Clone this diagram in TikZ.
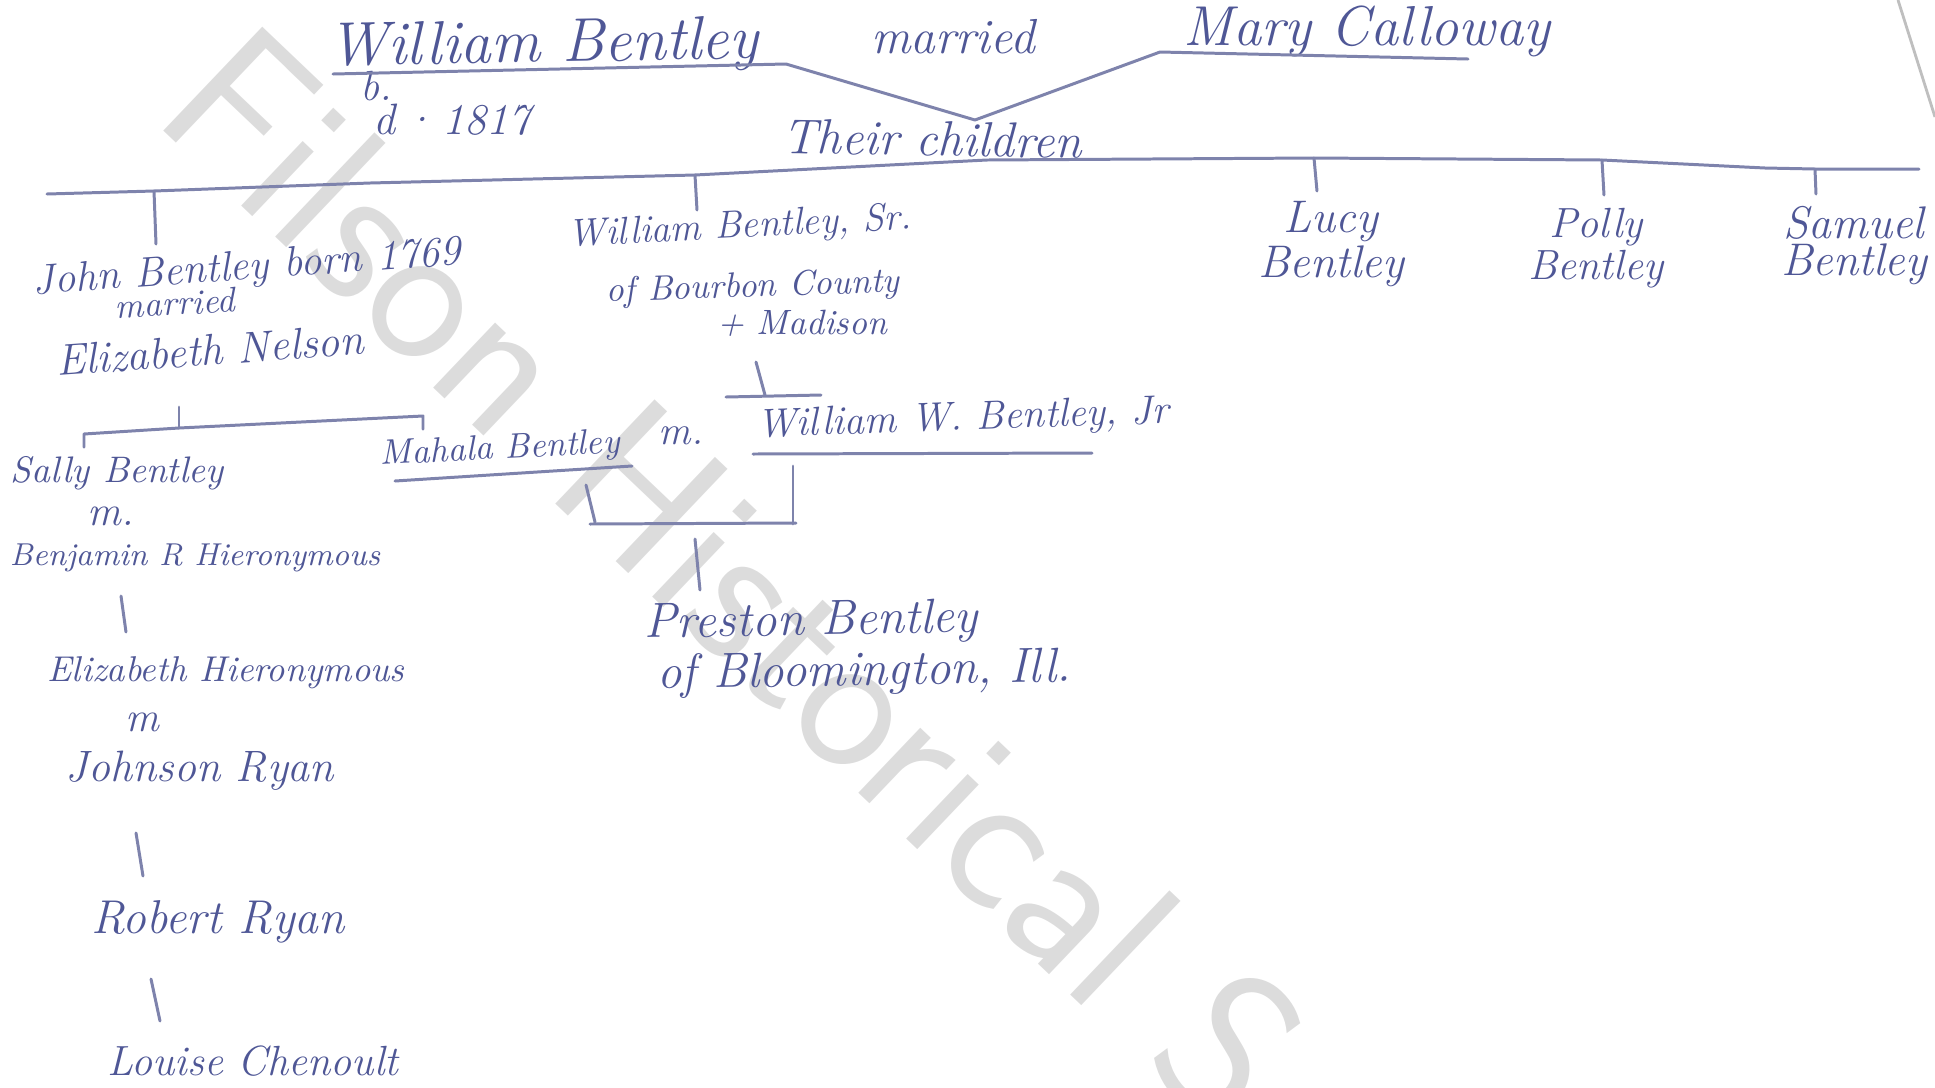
\documentclass[tikz,border=0pt]{standalone}
\usepackage{tikz}
\usetikzlibrary{positioning}
\definecolor{ink}{HTML}{4F5796}
\definecolor{pen}{HTML}{7E83AC}
\definecolor{wmark}{HTML}{DCDCDC}

\begin{document}
\begin{tikzpicture}[x=0.01cm,y=-0.01cm, hand/.style={text=ink,inner sep=1pt,font=\itshape\fontsize{#1}{#1}\selectfont}, hand/.default=12, pair/.style={text=ink,inner sep=1pt,align=center,font=\itshape\fontsize{#1}{10.5}\selectfont}, link/.style={draw=pen,line width=0.85pt,line cap=round,line join=round}, wm/.style={text=wmark,inner sep=0pt,font=\sffamily\fontsize{59}{59}\selectfont}]
\useasboundingbox (0,0) rectangle (1935,1087);
\clip (0,0) rectangle (1935,1087);
\node[wm,rotate=-43.6,anchor=base west] (mark) at (150,118) {Filson Historical Society};
\draw[draw=black!25,line width=0.8pt] (1898,0) -- (1935,117);
\node[hand=17.5,rotate=1] (wb) at (543,47) {William Bentley};
\node[hand=14] (wed) at (953,37) {married};
\node[hand=16] (mc) at (1367,31) {Mary Calloway};
\node[hand=12] (born) at (376,86) {b.};
\node[hand=12.5] (died) at (452,120) {d\,·\,1817};
\node[hand=14,rotate=-1] (tc) at (932,139) {Their children};
\coordinate (wl) at (333,74); \coordinate (wr) at (786,64);
\coordinate (vee) at (975,120);
\coordinate (ml) at (1160,52); \coordinate (mr) at (1468,59);
\draw[link] (wl) -- (wr) -- (vee) -- (ml) -- (mr);
\coordinate (c0) at (47,194); \coordinate (c1) at (154,191); \coordinate (c2) at (370,183);
\coordinate (c3) at (695,175); \coordinate (c4) at (987,160); \coordinate (c5) at (1314,158);
\coordinate (c6) at (1602,160); \coordinate (c7) at (1765,168); \coordinate (c8) at (1815,169); \coordinate (c9) at (1919,169);
\draw[link] (c0) -- (c1) -- (c2) -- (c3) -- (c4) -- (c5) -- (c6) -- (c7) -- (c8) -- (c9);
\node[hand=12,rotate=4] (john) at (247,269) {John Bentley born 1769};
\node[hand=10,rotate=3] (jwed) at (175,303) {married};
\node[hand=12.5,rotate=4] (eliz) at (210,350) {Elizabeth Nelson};
\node[hand=11,rotate=3] (wsr) at (740,228) {William Bentley, Sr.};
\node[hand=10,rotate=2] (bour) at (753,288) {of Bourbon County};
\node[hand=10] (madi) at (802,323) {+ Madison};
\node[pair=13] (lucy) at (1331,244) {Lucy\\Bentley};
\node[pair=12] (polly) at (1596,248) {Polly\\Bentley};
\node[pair=13] (samuel) at (1854,246) {Samuel\\Bentley};
\coordinate (jd) at (156,244); \coordinate (wd) at (697,210);
\coordinate (ld) at (1317,191); \coordinate (pd) at (1604,195); \coordinate (sd) at (1816,194);
\draw[link] (c1) -- (jd);
\draw[link] (c3) -- (wd);
\draw[link] (c5) -- (ld);
\draw[link] (c6) -- (pd);
\draw[link] (c8) -- (sd);
\node[hand=11.5,rotate=2] (wwj) at (963,420) {William W. Bentley, Jr};
\node[hand=11.5] (wm2) at (681,436) {m.};
\node[hand=10,rotate=3] (mah) at (500,450) {Mahala Bentley};
\coordinate (st) at (756,362); \coordinate (sb) at (765,395);
\coordinate (sl) at (726,397); \coordinate (sr) at (821,395);
\draw[link] (st) -- (sb);
\draw[link] (sl) -- (sr);
\coordinate (wul) at (753,454); \coordinate (wur) at (1092,453);
\draw[link] (wul) -- (wur);
\coordinate (mul) at (395,481); \coordinate (mur) at (632,466);
\draw[link] (mul) -- (mur);
\coordinate (kt) at (179,407); \coordinate (kl) at (84,434); \coordinate (kr) at (423,416);
\coordinate (kll) at (84,447); \coordinate (krr) at (423,429); \coordinate (km) at (179,428);
\draw[link] (kll) -- (kl) -- (km) -- (kr) -- (krr);
\draw[link] (kt) -- (km);
\node[hand=10.5] (sally) at (117,473) {Sally Bentley};
\node[hand=12] (sm) at (111,516) {m.};
\node[hand=9] (benj) at (195,558) {Benjamin R Hieronymous};
\node[hand=10.2] (ehi) at (226,673) {Elizabeth Hieronymous};
\node[hand=12] (em) at (142,722) {m};
\node[hand=12.5] (jry) at (200,771) {Johnson Ryan};
\node[hand=13.5] (rry) at (218,922) {Robert Ryan};
\node[hand=12] (lch) at (253,1061) {Louise Chenoult};
\coordinate (g1t) at (121,596); \coordinate (g1b) at (126,632);
\coordinate (g2t) at (136,833); \coordinate (g2b) at (143,876);
\coordinate (g3t) at (151,979); \coordinate (g3b) at (160,1021);
\draw[link] (g1t) -- (g1b);
\draw[link] (g2t) -- (g2b);
\draw[link] (g3t) -- (g3b);
\coordinate (pa) at (586,485); \coordinate (pb) at (595,522);
\coordinate (qa) at (793,466); \coordinate (qb) at (793,524);
\coordinate (pl) at (590,524); \coordinate (pr) at (796,523);
\coordinate (pt) at (695,539); \coordinate (pbot) at (700,590);
\draw[link] (pa) -- (pb);
\draw[link] (qa) -- (qb);
\draw[link] (pl) -- (pr);
\draw[link] (pt) -- (pbot);
\node[hand=14,rotate=1] (pres) at (811,623) {Preston Bentley};
\node[hand=14,rotate=1] (bloom) at (864,673) {of Bloomington, Ill.};
\end{tikzpicture}
\end{document}
